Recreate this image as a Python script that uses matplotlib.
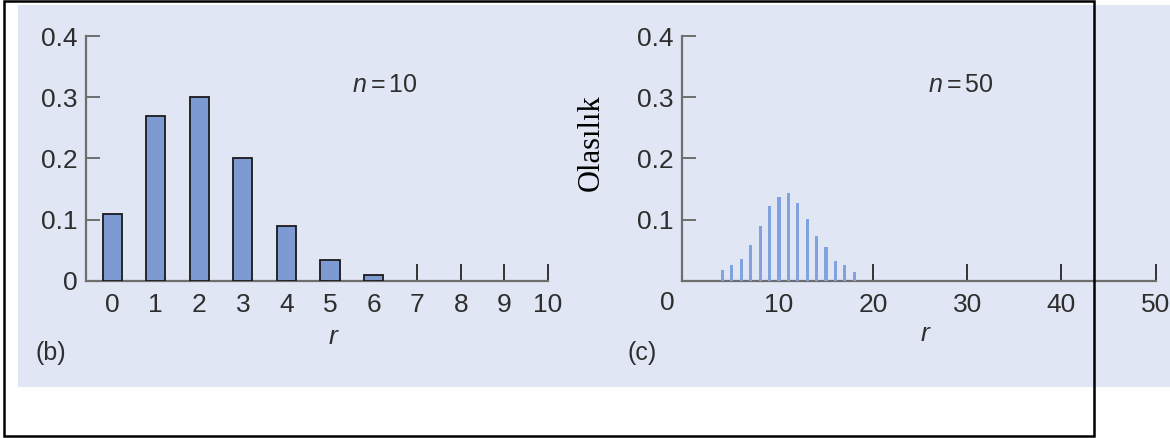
import numpy as np
import matplotlib
matplotlib.use("Agg")
import matplotlib.pyplot as plt
from matplotlib.patches import Rectangle

# Binom olasılıkları (okunan değerler)
r_10 = [0, 1, 2, 3, 4, 5, 6, 7, 8, 9, 10]
p_10 = [0.11, 0.27, 0.30, 0.20, 0.09, 0.035, 0.01, 0, 0, 0, 0]

r_50 = [4, 5, 6, 7, 8, 9, 10, 11, 12, 13, 14, 15, 16, 17, 18]
p_50 = [0.0175, 0.026, 0.036, 0.059, 0.089, 0.122, 0.137, 0.143,
        0.128, 0.101, 0.074, 0.056, 0.032, 0.026, 0.015]

y_ticks = [0.1, 0.2, 0.3, 0.4]
y_labels = ["0.1", "0.2", "0.3", "0.4"]

plt.rcParams["font.family"] = ["Liberation Sans", "DejaVu Sans"]
plt.rcParams["mathtext.fontset"] = "custom"
plt.rcParams["mathtext.rm"] = "Liberation Sans"
plt.rcParams["mathtext.it"] = "Liberation Sans:italic"

W, H = 1170, 438
fig = plt.figure(figsize=(W / 100, H / 100), dpi=100)
fig.patch.set_facecolor("white")

def fx(px):
    return px / W

def fy(py):
    return 1 - py / H

# arka plan paneli ve çerçeve
fig.patches.append(Rectangle((fx(18), fy(387)), fx(1170 - 18), 382 / H,
                             transform=fig.transFigure, facecolor="#e1e6f4",
                             edgecolor="none", zorder=-5))
fig.patches.append(Rectangle((fx(4), fy(436)), fx(1094 - 4), 435 / H,
                             transform=fig.transFigure, facecolor="none",
                             edgecolor="black", linewidth=1.8, zorder=10))

grey = "#6e6e6e"
txt = "#2e2e2e"
fs = 19

def style_axes(ax):
    ax.set_facecolor("none")
    for s in ["top", "right"]:
        ax.spines[s].set_visible(False)
    for s in ["left", "bottom"]:
        ax.spines[s].set_color(grey)
        ax.spines[s].set_linewidth(1.6)
    ax.set_ylim(0, 0.4)
    ax.xaxis.remove_overlapping_locs = False
    ax.tick_params(axis="y", direction="in", length=10, width=1.4, color=grey,
                   labelsize=fs, labelcolor=txt, pad=6)
    ax.tick_params(axis="x", which="major", length=0, labelsize=fs,
                   labelcolor=txt, pad=9)
    ax.tick_params(axis="x", which="minor", direction="in", length=12,
                   width=1.4, color="#333333")

# (b) n = 10
ax1 = fig.add_axes([fx(86), fy(281), fx(548 - 86), (281 - 36) / H])
style_axes(ax1)
nz = [(r, p) for r, p in zip(r_10, p_10) if p > 0]
ax1.bar([r for r, _ in nz], [p for _, p in nz], width=0.44, color="#7d9bd2",
        edgecolor="#1a1a1a", linewidth=1.3, zorder=3)
ax1.set_xlim(-0.6, 10)
ax1.set_xticks(r_10)
ax1.set_xticklabels([str(v) for v in r_10])
ax1.set_xticks([7, 8, 9, 10], minor=True)
ax1.set_yticks([0] + y_ticks)
ax1.set_yticklabels(["0"] + y_labels)
ax1.text(6.26, 0.32, "$n = 10$", fontsize=18, color=txt, ha="center", va="center")

# (c) n = 50
ax2 = fig.add_axes([fx(682), fy(281), fx(1155.5 - 682), (281 - 36) / H])
style_axes(ax2)
ax2.bar(r_50, p_50, width=0.33, color="#80a2df", edgecolor="none", zorder=3)
ax2.set_xlim(-0.3, 50)
ax2.set_xticks([10, 20, 30, 40, 50])
ax2.set_xticklabels(["10", "20", "30", "40", "50"])
ax2.set_xticks([20, 30, 40, 50], minor=True)
ax2.set_yticks(y_ticks)
ax2.set_yticklabels(y_labels)
ax2.text(29.3, 0.32, "$n = 50$", fontsize=18, color=txt, ha="center", va="center")

# serbest metinler
fig.text(fx(667), fy(303), "0", fontsize=fs, color=txt, ha="center", va="center")
fig.text(fx(333), fy(337), "r", fontsize=fs, style="italic", color=txt,
         ha="center", va="center")
fig.text(fx(925), fy(334), "r", fontsize=fs, style="italic", color=txt,
         ha="center", va="center")
fig.text(fx(51), fy(353), "(b)", fontsize=18, color=txt, ha="center", va="center")
fig.text(fx(642), fy(353), "(c)", fontsize=18, color=txt, ha="center", va="center")
fig.text(fx(591), fy(143), "Olasılık", fontsize=22, family="Liberation Serif",
         rotation=90, color="black", ha="center", va="center")

fig.savefig("out.png", dpi=100)
